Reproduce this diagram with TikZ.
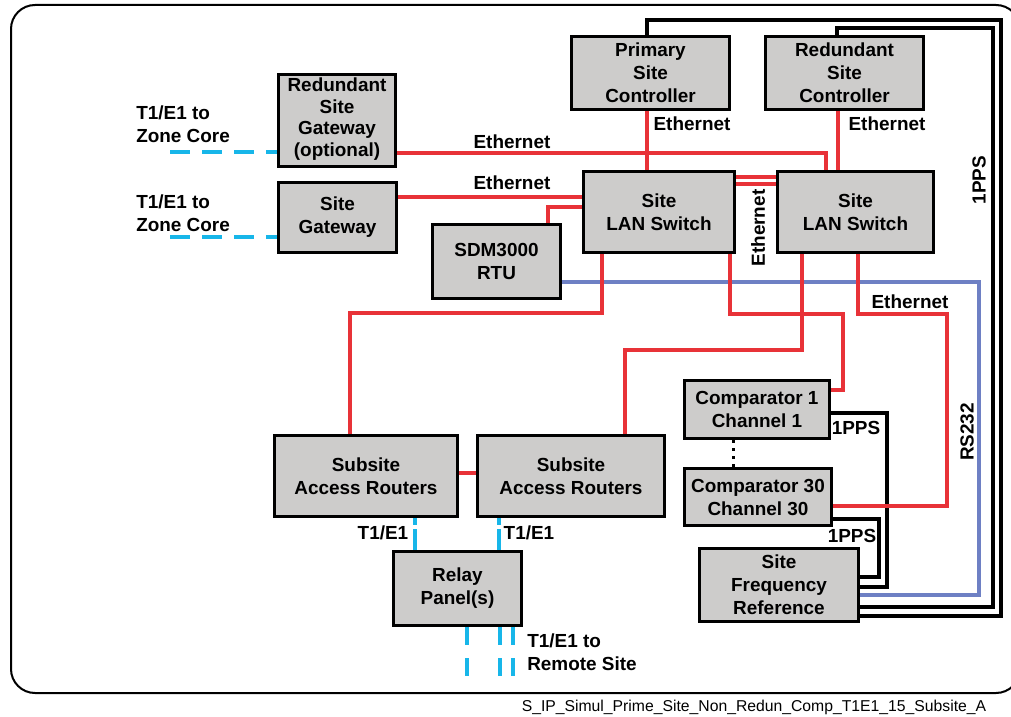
\documentclass[tikz,border=0pt]{standalone}
\usepackage{fontspec}
\setmainfont{Liberation Sans}
\usetikzlibrary{backgrounds}

\definecolor{boxgray}{RGB}{205,204,203}
\definecolor{ethred}{RGB}{232,50,56}
\definecolor{rsblue}{RGB}{110,128,196}
\definecolor{tcyan}{RGB}{23,182,233}

\newcommand{\diagfont}{\fontsize{14.2}{17.25}\selectfont\bfseries}
\newcommand{\tightfont}{\fontsize{14.2}{16.3}\selectfont\bfseries}
\newcommand{\capfont}{\fontsize{11.8}{14}\selectfont}
% equipment box: name, left, top, right, bottom, text
\newcommand{\eqbox}[7][]{%
  \node[box, minimum width={(#5-#3-3)*0.75pt}, minimum height={(#6-#4-3)*0.75pt}, #1]
    (#2) at ({(#3+#5)/2},{(#4+#6)/2}) {#7};}

\begin{document}
\begin{tikzpicture}[x=0.75pt,y=-0.75pt,
  box/.style={draw=black, line width=2.25pt, fill=boxgray, inner sep=0pt,
              align=center, font=\diagfont},
  lbl/.style={inner sep=0pt, align=center, font=\diagfont},
  lbll/.style={inner sep=0pt, align=left, anchor=west, font=\diagfont},
  eth/.style={draw=ethred, line width=3pt},
  rs/.style={draw=rsblue, line width=3pt},
  pps/.style={draw=black, line width=3pt},
  tone/.style={draw=tcyan, line width=3pt, dash pattern=on 15pt off 9pt},
  tshort/.style={draw=tcyan, line width=3pt, dash pattern=on 16pt off 3pt},
  tdown/.style={draw=tcyan, line width=3pt, dash pattern=on 13.5pt off 9.75pt},
  dots/.style={draw=black, line width=2.25pt, dash pattern=on 2.25pt off 3.75pt}]

\useasboundingbox (0,0) rectangle (1011,717);
\begin{scope}
  \clip (0,0) rectangle (1011,717);
  % outer frame
  \draw[line width=1.5pt, rounded corners=18pt] (11,5) rectangle (1020,693);
\end{scope}

% equipment boxes
\eqbox{psc}{570}{35}{731}{111}{Primary\\Site\\Controller}
\eqbox{rsc}{764}{35}{925}{111}{Redundant\\Site\\Controller}
\eqbox{sw1}{582}{170}{736}{254}{Site\\LAN Switch}
\eqbox{sw2}{776}{170}{935}{254}{Site\\LAN Switch}
\eqbox[font=\tightfont, text depth=5pt]{rgw}{277}{73}{397}{168}{Redundant\\Site\\Gateway\\(optional)}
\eqbox{sgw}{277}{181}{398}{254}{Site\\Gateway}
\eqbox{sdm}{431}{223}{562}{300}{SDM3000\\RTU}
\eqbox{ar1}{273}{434}{459}{518}{Subsite\\Access Routers}
\eqbox{ar2}{476}{434}{666}{518}{Subsite\\Access Routers}
\eqbox{rly}{392}{550}{523}{627}{Relay\\Panel(s)}
\eqbox{cmp1}{683}{379}{831}{440}{Comparator 1\\Channel 1}
\eqbox{cmp30}{683}{467}{833}{527}{Comparator 30\\Channel 30}
\eqbox{sfr}{698}{547}{860}{623}{Site\\Frequency\\Reference}

% free ends of the T1/E1 links
\coordinate (zc1) at (170,152);
\coordinate (zc2) at (170,237);
\coordinate (rs1) at (467,678);
\coordinate (rs2) at (500,678);
\coordinate (rs3) at (513,678);

\begin{scope}[on background layer]
  % RS232 link
  \draw[rs] (sdm.east |- 0,282) -| (979,595) -- (sfr.east |- 0,595);

  % 1PPS links
  \draw[pps] (psc.north -| 647,0) |- (1001,20) |- (sfr.east |- 0,616);
  \draw[pps] (rsc.north -| 837,0) |- (993,28) |- (sfr.east |- 0,607);
  \draw[pps] (cmp1.east |- 0,413) -| (887,587) -- (sfr.east |- 0,587);
  \draw[pps] (cmp30.east |- 0,519) -| (879,577) -- (sfr.east |- 0,577);
  \draw[dots] (cmp1.south -| 733,0) -- (cmp30.north -| 733,0);

  % Ethernet links
  \draw[eth] (rgw.east |- 0,153) -| (sw2.north -| 826,0);
  \draw[eth] (psc.south -| 647,0) -- (sw1.north -| 647,0);
  \draw[eth] (rsc.south -| 838,0) -- (sw2.north -| 838,0);
  \draw[eth] (sgw.east |- 0,197) -- (sw1.west |- 0,197);
  \draw[eth] (sdm.north -| 548,0) |- (sw1.west |- 0,207);
  \draw[eth] (sw1.east |- 0,177) -- (sw2.west |- 0,177);
  \draw[eth] (sw1.east |- 0,184) -- (sw2.west |- 0,184);
  \draw[eth] (sw1.south -| 602,0) |- (350,313) -- (ar1.north -| 350,0);
  \draw[eth] (sw1.south -| 730,0) |- (843,314) |- (cmp1.east |- 0,390);
  \draw[eth] (sw2.south -| 802,0) |- (625,350) -- (ar2.north -| 625,0);
  \draw[eth] (sw2.south -| 858,0) |- (947,314) |- (cmp30.east |- 0,506);
  \draw[eth] (ar1.east |- 0,473) -- (ar2.west |- 0,473);

  % T1/E1 links
  \draw[tone] (zc1) -- (rgw.west |- zc1);
  \draw[tone] (zc2) -- (sgw.west |- zc2);
  \draw[tshort] (rly.north -| 415,0) -- (ar1.south -| 415,0);
  \draw[tshort] (rly.north -| 499,0) -- (ar2.south -| 499,0);
  \draw[tdown] (rly.south -| rs1) -- (rs1);
  \draw[tdown] (rly.south -| rs2) -- (rs2);
  \draw[tdown] (rly.south -| rs3) -- (rs3);
\end{scope}

% link labels
\node[lbl] (le1) at (512,142) {Ethernet};
\node[lbl] (le2) at (512,183) {Ethernet};
\node[lbl] (le3) at (692,124) {Ethernet};
\node[lbl] (le4) at (887,124) {Ethernet};
\node[lbl] (le5) at (910,302) {Ethernet};
\node[lbl, rotate=90] (le6) at (758,228) {Ethernet};
\node[lbl, rotate=90] (lpps) at (979,180) {1PPS};
\node[lbl, rotate=90] (lrs) at (967,432) {RS232};
\node[lbl] (lpps1) at (856,428) {1PPS};
\node[lbl] (lpps2) at (852,536) {1PPS};
\node[lbl] (lt1) at (383,533) {T1/E1};
\node[lbl] (lt2) at (529,533) {T1/E1};
\node[lbll] (lzc1) at (136,124) {T1/E1 to\\Zone Core};
\node[lbll] (lzc2) at (136,213) {T1/E1 to\\Zone Core};
\node[lbll] (lrem) at (527,652) {T1/E1 to\\Remote Site};

% drawing reference
\node[inner sep=0pt, font=\capfont] (cap) at (754,707)
  {S\_IP\_Simul\_Prime\_Site\_Non\_Redun\_Comp\_T1E1\_15\_Subsite\_A};
\end{tikzpicture}
\end{document}
